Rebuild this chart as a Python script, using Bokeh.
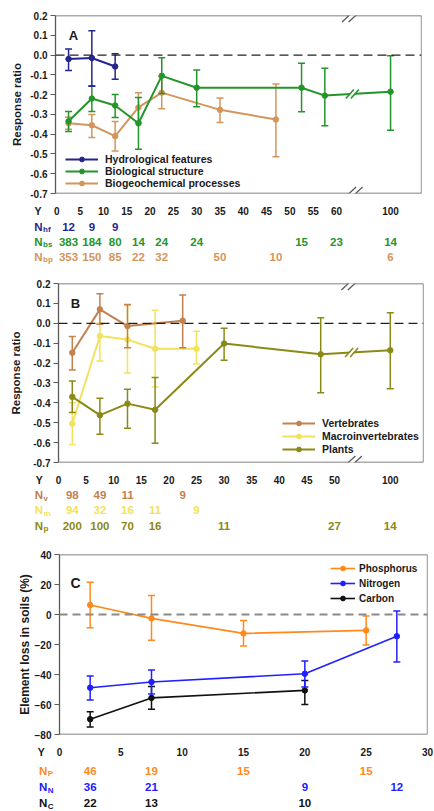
from bokeh.plotting import figure
from bokeh.layouts import column
from bokeh.models import (Legend, LegendItem, Label, FixedTicker, Span, Arrow,
                          PolyAnnotation, Range1d, PrintfTickFormatter)
from bokeh.embed import file_html
from bokeh.resources import INLINE

FONT = "Liberation Sans"
W = 434

# ---------------- Panel A data ----------------
a_hf_year = [2.5, 7.5, 12.5]
a_hf_rr = [-0.02, -0.015, -0.058]
a_hf_lo = [-0.078, -0.158, -0.122]
a_hf_hi = [0.03, 0.123, 0.006]

a_bs_year = [2.5, 7.5, 12.5, 17.5, 22.5, 30, 52.5, 57.5, 100]
a_bs_rr = [-0.335, -0.22, -0.255, -0.345, -0.105, -0.165, -0.165, -0.205, -0.185]
a_bs_lo = [-0.387, -0.285, -0.316, -0.476, -0.194, -0.261, -0.287, -0.358, -0.38]
a_bs_hi = [-0.285, -0.155, -0.2, -0.214, -0.014, -0.075, -0.041, -0.067, -0.003]

a_bp_year = [2.5, 7.5, 12.5, 17.5, 22.5, 35, 47]
a_bp_rr = [-0.345, -0.355, -0.41, -0.265, -0.19, -0.277, -0.326]
a_bp_lo = [-0.375, -0.417, -0.485, -0.34, -0.272, -0.341, -0.514]
a_bp_hi = [-0.315, -0.3, -0.336, -0.19, -0.108, -0.217, -0.146]

a_n_hf = [12, 9, 9]
a_n_hf_year = [2.5, 7.5, 12.5]
a_n_bs = [383, 184, 80, 14, 24, 24, 15, 23, 14]
a_n_bs_year = [2.5, 7.5, 12.5, 17.5, 22.5, 30, 52.5, 60, 100]
a_n_bp = [353, 150, 85, 22, 32, 50, 10, 6]
a_n_bp_year = [2.5, 7.5, 12.5, 17.5, 22.5, 35, 47, 100]
a_xticks = [0, 5, 10, 15, 20, 25, 30, 35, 40, 45, 50, 55, 60, 100]

# ---------------- Panel B data ----------------
b_v_year = [2.5, 7.5, 12.5, 22.5]
b_v_rr = [-0.148, 0.07, -0.014, 0.013]
b_v_lo = [-0.235, -0.005, -0.123, -0.123]
b_v_hi = [-0.067, 0.149, 0.095, 0.142]

b_m_year = [2.5, 7.5, 12.5, 17.5, 25]
b_m_rr = [-0.505, -0.064, -0.082, -0.128, -0.128]
b_m_lo = [-0.61, -0.19, -0.25, -0.32, -0.205]
b_m_hi = [-0.40, 0.0, 0.09, 0.065, -0.04]

b_p_year = [2.5, 7.5, 12.5, 17.5, 30, 47.5, 100]
b_p_rr = [-0.37, -0.462, -0.404, -0.435, -0.102, -0.156, -0.136]
b_p_lo = [-0.449, -0.558, -0.528, -0.603, -0.186, -0.349, -0.329]
b_p_hi = [-0.29, -0.377, -0.332, -0.273, -0.025, 0.028, 0.053]

b_n_v = [98, 49, 11, 9]
b_n_v_year = [2.5, 7.5, 12.5, 22.5]
b_n_m = [94, 32, 16, 11, 9]
b_n_m_year = [2.5, 7.5, 12.5, 17.5, 25]
b_n_p = [200, 100, 70, 16, 11, 27, 14]
b_n_p_year = [2.5, 7.5, 12.5, 17.5, 30, 50, 100]
b_xticks = [0, 5, 10, 15, 20, 25, 30, 35, 40, 45, 50, 100]

rr_ticks = [-0.7, -0.6, -0.5, -0.4, -0.3, -0.2, -0.1, 0.0, 0.1, 0.2]

# ---------------- Panel C data ----------------
c_p_year = [2.5, 7.5, 15, 25]
c_p_loss = [6.3, -2.6, -12.6, -10.6]
c_p_lo = [-8.8, -17.2, -21.0, -20.4]
c_p_hi = [21.5, 12.7, -4.0, -1.0]

c_n_year = [2.5, 7.5, 20, 27.5]
c_n_loss = [-48.8, -45.0, -39.5, -14.5]
c_n_lo = [-57.0, -53.0, -48.3, -31.6]
c_n_hi = [-41.0, -37.0, -31.0, 2.3]

c_c_year = [2.5, 7.5, 20]
c_c_loss = [-69.8, -55.6, -50.6]
c_c_lo = [-75.0, -63.2, -60.0]
c_c_hi = [-64.8, -48.0, -44.0]

c_n_P = [46, 19, 15, 15]
c_n_P_year = [2.5, 7.5, 15, 25]
c_n_N = [36, 21, 9, 12]
c_n_N_year = [2.5, 7.5, 20, 27.5]
c_n_C = [22, 13, 10]
c_n_C_year = [2.5, 7.5, 20]
c_xticks = [0, 5, 10, 15, 20, 25, 30]
c_yticks = [-80, -60, -40, -20, 0, 20, 40]

# colours
COL_HF = "#25258f"
COL_BS = "#23952a"
COL_BP = "#d4955a"
COL_V = "#c2814f"
COL_M = "#f2e25e"
COL_P = "#8a8a16"
COL_PH = "#ff8a1c"
COL_NI = "#2020ff"
COL_CA = "#111111"
FRAME = "#5a5a5a"
INK = "#1a1a1a"


def folded(years, cut, pos100):
    return [y if y <= cut else pos100 + (y - 100) for y in years]


class Panel:
    def __init__(self, height, left, right, top, bottom, x0, x1, y0, y1):
        self.fw = W - left - right
        self.fh = height - top - bottom
        self.x0, self.x1, self.y0, self.y1 = x0, x1, y0, y1
        self.dx = (x1 - x0) / self.fw
        self.dy = (y1 - y0) / self.fh
        self.left = left
        p = figure(width=W, height=height, x_range=Range1d(x0, x1), y_range=Range1d(y0, y1),
                   output_backend="svg", toolbar_location=None, title=None,
                   x_axis_location=None, frame_align=False,
                   min_border_left=left, min_border_right=right,
                   min_border_top=top, min_border_bottom=bottom)
        p.grid.visible = False
        p.outline_line_color = None
        ax = p.yaxis[0]
        ax.major_label_text_font = FONT
        ax.major_label_text_font_style = "bold"
        ax.major_label_text_font_size = "10px"
        ax.major_label_text_color = INK
        ax.minor_tick_line_color = None
        ax.major_tick_in = 0
        ax.major_tick_out = 5
        ax.major_tick_line_color = FRAME
        ax.axis_line_color = FRAME
        ax.axis_line_width = 1.3
        ax.major_label_standoff = 3
        ax.axis_label_text_font = FONT
        ax.axis_label_text_font_style = "bold"
        ax.axis_label_text_color = INK
        self.p = p

    def line_seg(self, x0, y0, x1, y1, color, width):
        self.p.add_layout(Arrow(end=None, x_start=x0, y_start=y0, x_end=x1, y_end=y1,
                                line_color=color, line_width=width))

    def frame_edges(self):
        for loc in (self.y0, self.y1):
            self.p.add_layout(Span(location=loc, dimension="width", line_color=FRAME, line_width=1.3))
        self.p.add_layout(Span(location=self.x1, dimension="height", line_color=FRAME, line_width=1.3))

    def brk(self, xb, yb, color, hx, hy, sep, lw):
        dx, dy = self.dx, self.dy
        a = xb - sep / 2 * dx
        b = xb + sep / 2 * dx
        self.p.add_layout(PolyAnnotation(
            xs=[a - hx * dx, a + hx * dx, b + hx * dx, b - hx * dx],
            ys=[yb - hy * dy, yb + hy * dy, yb + hy * dy, yb - hy * dy],
            fill_color="white", fill_alpha=1.0, line_alpha=0))
        for c in (a, b):
            self.line_seg(c - hx * dx, yb - hy * dy, c + hx * dx, yb + hy * dy, color, lw)

    def label(self, px_from_left, px_from_top, s, size="13px"):
        self.p.add_layout(Label(x=self.x0 + px_from_left * self.dx, y=self.y1 - px_from_top * self.dy,
                                text=s, text_color=INK, text_font=FONT, text_font_style="bold",
                                text_font_size=size, text_align="center", text_baseline="middle"))


class Rows:
    """Strip beneath a panel holding the year tick row and the sample-size rows."""
    def __init__(self, panel, height):
        self.dx = panel.dx
        self.xs = panel.x0 - panel.left * panel.dx
        xe = self.xs + W * panel.dx
        r = figure(width=W, height=height, x_range=Range1d(self.xs, xe), y_range=Range1d(-height, 0),
                   output_backend="svg", toolbar_location=None, title=None,
                   x_axis_location=None, y_axis_location=None, frame_align=False,
                   min_border=0, min_border_left=0, min_border_right=0,
                   min_border_top=0, min_border_bottom=0)
        r.grid.visible = False
        r.outline_line_color = None
        self.p = r

    def text(self, x, top_px, s, color, size, align="center"):
        self.p.add_layout(Label(x=x, y=-top_px, text=s, text_color=color, text_font=FONT,
                                text_font_style="bold", text_font_size=size,
                                text_align=align, text_baseline="middle"))

    def at_page(self, px):
        return self.xs + px * self.dx

    def ticks(self, positions, labels, top_px, y_center_px):
        self.text(self.at_page(y_center_px), top_px, "Y", INK, "10.5px")
        for x, s in zip(positions, labels):
            self.text(x, top_px, str(s), INK, "10px")

    def nrow(self, positions, vals, top_px, sub, color, n_right_px, size="11.5px"):
        self.text(self.at_page(n_right_px), top_px, "N", color, size, align="right")
        self.text(self.at_page(n_right_px + 0.5), top_px + 3.3, sub, color, "8px", align="left")
        for x, v in zip(positions, vals):
            self.text(x, top_px, str(v), color, size)


def series(p, xs, ys, lo, hi, color, lw=2.0, size=5.5, cap=7, elw=1.5):
    p.segment(x0=xs, y0=lo, x1=xs, y1=hi, line_color=color, line_width=elw)
    p.scatter(x=xs, y=lo, marker="dash", size=cap, line_color=color, line_width=elw)
    p.scatter(x=xs, y=hi, marker="dash", size=cap, line_color=color, line_width=elw)
    ln = p.line(x=xs, y=ys, line_color=color, line_width=lw)
    pt = p.scatter(x=xs, y=ys, marker="circle", size=size, fill_color=color, line_color=color)
    return [ln, pt]


def make_legend(items, loc, gw, standoff, size, spacing, lh=12):
    return Legend(items=[LegendItem(label=l, renderers=r) for l, r in items],
                  location=loc, orientation="vertical", padding=0, margin=0,
                  spacing=spacing, glyph_width=gw, glyph_height=12, label_height=lh,
                  label_standoff=standoff, label_text_font=FONT,
                  label_text_font_style="bold", label_text_font_size=size,
                  label_text_color=INK, background_fill_alpha=0, border_line_alpha=0)


# ======================= Panel A =======================
A_CUT, A_POS100, A_BREAK = 62, 71.6, 63.4
A = Panel(201, 55, 13, 15, 8, -0.3, 78.24, -0.7, 0.2)
pa = A.p
pa.add_layout(Span(location=0, dimension="width", line_color="#222222", line_width=1.3, line_dash="9 5"))
r_bp = series(pa, folded(a_bp_year, A_CUT, A_POS100), a_bp_rr, a_bp_lo, a_bp_hi, COL_BP)
r_bs = series(pa, folded(a_bs_year, A_CUT, A_POS100), a_bs_rr, a_bs_lo, a_bs_hi, COL_BS)
r_hf = series(pa, folded(a_hf_year, A_CUT, A_POS100), a_hf_rr, a_hf_lo, a_hf_hi, COL_HF)
pa.yaxis.ticker = FixedTicker(ticks=rr_ticks)
pa.yaxis.formatter = PrintfTickFormatter(format="%.1f")
pa.yaxis.axis_label = "Response ratio"
pa.yaxis.axis_label_text_font_size = "11.5px"
pa.yaxis.axis_label_standoff = 4
A.frame_edges()
yb_line = a_bs_rr[7] + (a_bs_rr[8] - a_bs_rr[7]) * (A_BREAK - a_bs_year[7]) / (A_POS100 - a_bs_year[7])
A.brk(A_BREAK, yb_line, COL_BS, 4, 4.5, 5, 1.6)
A.brk(A_BREAK, A.y1, FRAME, 7, 6.5, 6.5, 1.3)
A.brk(A_BREAK, A.y0, FRAME, 7, 6.5, 6.5, 1.3)
pa.add_layout(make_legend([("Hydrological features", r_hf), ("Biological structure", r_bs),
                           ("Biogeochemical processes", r_bp)], (10, 4), 33, 7, "10.5px", 0))
A.label(18, 20, "A")

RA = Rows(A, 63)
RA.ticks(folded(a_xticks, A_CUT, A_POS100), a_xticks, 9.7, 37.5)
RA.nrow(folded(a_n_hf_year, A_CUT, A_POS100), a_n_hf, 25, "hf", COL_HF, 42)
RA.nrow(folded(a_n_bs_year, A_CUT, A_POS100), a_n_bs, 40, "bs", COL_BS, 42)
RA.nrow(folded(a_n_bp_year, A_CUT, A_POS100), a_n_bp, 55, "bp", COL_BP, 42)

# ======================= Panel B =======================
B_CUT, B_POS100, B_BREAK = 52, 60.1, 53.1
B = Panel(206, 58, 11, 19, 8, 0, 66.12, -0.7, 0.2)
pb = B.p
pb.add_layout(Span(location=0, dimension="width", line_color="#222222", line_width=1.3, line_dash="9 5"))
r_m = series(pb, folded(b_m_year, B_CUT, B_POS100), b_m_rr, b_m_lo, b_m_hi, COL_M)
r_p = series(pb, folded(b_p_year, B_CUT, B_POS100), b_p_rr, b_p_lo, b_p_hi, COL_P)
r_v = series(pb, folded(b_v_year, B_CUT, B_POS100), b_v_rr, b_v_lo, b_v_hi, COL_V)
pb.yaxis.ticker = FixedTicker(ticks=rr_ticks)
pb.yaxis.formatter = PrintfTickFormatter(format="%.1f")
pb.yaxis.axis_label = "Response ratio"
pb.yaxis.axis_label_text_font_size = "11.5px"
pb.yaxis.axis_label_standoff = 8
B.frame_edges()
yb_line = b_p_rr[5] + (b_p_rr[6] - b_p_rr[5]) * (B_BREAK - b_p_year[5]) / (B_POS100 - b_p_year[5])
B.brk(B_BREAK, yb_line, COL_P, 4, 4.5, 5, 1.6)
B.brk(B_BREAK, B.y1, FRAME, 7, 6.5, 6.5, 1.3)
B.brk(B_BREAK, B.y0, FRAME, 7, 6.5, 6.5, 1.3)
pb.add_layout(make_legend([("Vertebrates", r_v), ("Macroinvertebrates", r_m), ("Plants", r_p)],
                          (224, 7), 33, 7, "10.5px", 1))
B.label(17, 20, "B")

RB = Rows(B, 63)
RB.ticks(folded(b_xticks, B_CUT, B_POS100), b_xticks, 9, 38.8)
RB.nrow(folded(b_n_v_year, B_CUT, B_POS100), b_n_v, 24.3, "v", COL_V, 42.5)
RB.nrow(folded(b_n_m_year, B_CUT, B_POS100), b_n_m, 39.3, "m", COL_M, 42.5)
RB.nrow(folded(b_n_p_year, B_CUT, B_POS100), b_n_p, 55, "p", COL_P, 42.5)

# ======================= Panel C =======================
C = Panel(209, 59, 7, 21, 8, 0, 30, -80, 40)
pc = C.p
pc.add_layout(Span(location=0, dimension="width", line_color="#8a8a8a", line_width=2, line_dash="8 5"))
r_c = series(pc, c_c_year, c_c_loss, c_c_lo, c_c_hi, COL_CA, lw=1.6)
r_n = series(pc, c_n_year, c_n_loss, c_n_lo, c_n_hi, COL_NI, lw=1.6)
r_ph = series(pc, c_p_year, c_p_loss, c_p_lo, c_p_hi, COL_PH, lw=1.6)
pc.yaxis.ticker = FixedTicker(ticks=c_yticks)
pc.yaxis.axis_label = "Element loss in soils (%)"
pc.yaxis.axis_label_text_font_size = "12px"
pc.yaxis.axis_label_standoff = 0
C.frame_edges()
pc.add_layout(make_legend([("Phosphorus", r_ph), ("Nitrogen", r_n), ("Carbon", r_c)],
                          (271, 130), 25, 4, "10px", 3))
C.label(16, 28.5, "C", "14px")

RC = Rows(C, 69)
RC.ticks(c_xticks, c_xticks, 9, 40.8)
RC.nrow(c_n_P_year, c_n_P, 28, "P", COL_PH, 46.7)
RC.nrow(c_n_N_year, c_n_N, 44.7, "N", COL_NI, 46.7)
RC.nrow(c_n_C_year, c_n_C, 60.2, "C", COL_CA, 46.7)

layout = column(pa, RA.p, pb, RB.p, pc, RC.p, spacing=0)
open("out.html", "w").write(file_html(layout, INLINE))
